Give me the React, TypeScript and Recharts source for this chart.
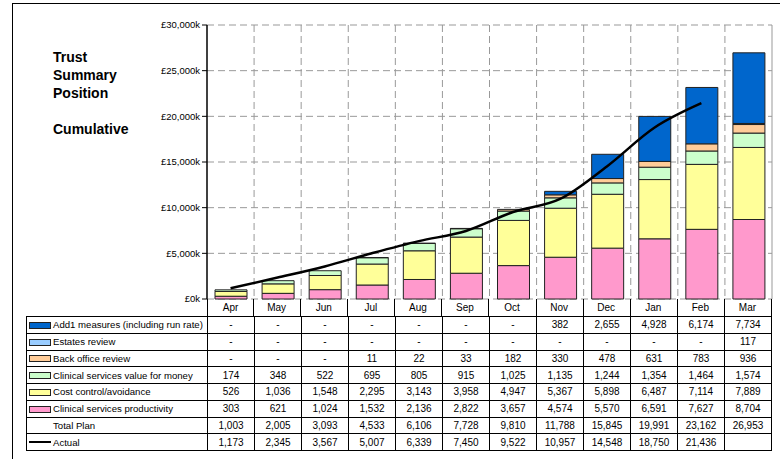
import { ComposedChart, Bar, Line, XAxis, YAxis, CartesianGrid } from "recharts"

const months = ["Apr", "May", "Jun", "Jul", "Aug", "Sep", "Oct", "Nov", "Dec", "Jan", "Feb", "Mar"]

// £k, cumulative
const add1 = [0, 0, 0, 0, 0, 0, 0, 382, 2655, 4928, 6174, 7734]
const estates = [0, 0, 0, 0, 0, 0, 0, 0, 0, 0, 0, 117]
const backOffice = [0, 0, 0, 11, 22, 33, 182, 330, 478, 631, 783, 936]
const vfm = [174, 348, 522, 695, 805, 915, 1025, 1135, 1244, 1354, 1464, 1574]
const costControl = [526, 1036, 1548, 2295, 3143, 3958, 4947, 5367, 5898, 6487, 7114, 7889]
const productivity = [303, 621, 1024, 1532, 2136, 2822, 3657, 4574, 5570, 6591, 7627, 8704]
const totalPlan = [1003, 2005, 3093, 4533, 6106, 7728, 9810, 11788, 15845, 19991, 23162, 26953]
const actual: (number | null)[] = [1173, 2345, 3567, 5007, 6339, 7450, 9522, 10957, 14548, 18750, 21436, null]

const yTicks = [0, 5000, 10000, 15000, 20000, 25000, 30000]

const FONT = "Arial, 'Liberation Sans', sans-serif"
const STROKE = "#222"

const series = [
  { key: "add1", name: "Add1 measures (including run rate)", values: add1, color: "#0066CC" },
  { key: "estates", name: "Estates review", values: estates, color: "#99CCFF" },
  { key: "backOffice", name: "Back office review", values: backOffice, color: "#FFCC99" },
  { key: "vfm", name: "Clinical services value for money", values: vfm, color: "#CCFFCC" },
  { key: "costControl", name: "Cost control/avoidance", values: costControl, color: "#FFFF99" },
  { key: "productivity", name: "Clinical services productivity", values: productivity, color: "#FF99CC" },
]

const data = months.map((m, i) => {
  const row: Record<string, string | number | null> = { month: m, actual: actual[i] }
  for (const s of series) row[s.key] = s.values[i]
  return row
})

const fmt = (v: number | null) =>
  v == null ? "" : v === 0 ? "-" : v.toLocaleString("en-US")

const fmtY = (v: number) => `£${v.toLocaleString("en-US")}k`

const cell: React.CSSProperties = {
  borderRight: "1px solid #000",
  borderBottom: "1px solid #000",
  display: "flex",
  alignItems: "center",
  justifyContent: "center",
  fontSize: 10,
  overflow: "hidden",
  whiteSpace: "nowrap",
}

const labelCell: React.CSSProperties = {
  ...cell,
  justifyContent: "flex-start",
  position: "relative",
  paddingLeft: 26,
  fontSize: 9.6,
}

function Swatch({ color, line }: { color?: string; line?: boolean }) {
  if (line)
    return <span style={{ position: "absolute", left: 2, top: "50%", width: 22, height: 2, marginTop: -1, background: "#000" }} />
  return (
    <span style={{
      position: "absolute", left: 2, top: "50%", width: 20, height: 5, marginTop: -3,
      background: color, border: `1px solid ${STROKE}`,
    }} />
  )
}

function DataTable() {
  const cols = "181px repeat(12, 1fr)"
  const rows = [
    ...series.map((s) => ({ name: s.name, values: s.values as (number | null)[], swatch: <Swatch color={s.color} /> })),
    { name: "Total Plan", values: totalPlan as (number | null)[], swatch: null },
    { name: "Actual", values: actual, swatch: <Swatch line /> },
  ]
  return (
    <div style={{ position: "absolute", left: 26, top: 299, width: 746, fontFamily: FONT, color: "#000" }}>
      <div style={{ display: "grid", gridTemplateColumns: cols, height: 17 }}>
        <div />
        {months.map((m) => (
          <div key={m} style={{ ...cell, borderBottom: "none", borderLeft: m === "Apr" ? "1px solid #000" : undefined, marginLeft: m === "Apr" ? 0 : -1 }}>{m}</div>
        ))}
      </div>
      <div style={{
        display: "grid", gridTemplateColumns: cols, gridAutoRows: "16.75px",
        borderTop: "1px solid #000", borderLeft: "1px solid #000",
      }}>
        {rows.map((r) => [
          <div key={r.name} style={labelCell}>{r.swatch}{r.name}</div>,
          ...r.values.map((v, i) => <div key={r.name + i} style={cell}>{fmt(v)}</div>),
        ])}
      </div>
    </div>
  )
}

export default function App() {
  return (
    <div style={{ position: "absolute", left: 0, top: 0, width: 780, height: 459, background: "#fff", overflow: "hidden" }}>
      <div style={{ position: "absolute", left: 12, top: 3, width: 800, height: 500, borderLeft: "1.5px solid #000", borderTop: "1.5px solid #000" }} />
      <div style={{ position: "absolute", left: 53, top: 48, fontFamily: FONT, fontWeight: "bold", fontSize: 14, lineHeight: "18px", color: "#000" }}>
        Trust<br />Summary<br />Position<br /><br />Cumulative
      </div>
      <div style={{ position: "absolute", left: 0, top: 0 }}>
        <ComposedChart width={780} height={310} data={data} margin={{ top: 25, right: 8, bottom: 11, left: 147 }} barSize={32}>
          <CartesianGrid
            stroke="#999"
            strokeDasharray="7 4"
            verticalCoordinatesGenerator={({ offset }: any) =>
              months.slice(1).map((_, i) => offset.left + ((i + 1) * offset.width) / months.length)}
          />
          <CartesianGrid
            stroke="#999"
            horizontal={false}
            verticalCoordinatesGenerator={({ offset }: any) => [offset.left + offset.width]}
          />
          <XAxis dataKey="month" height={0} tick={false} tickLine={false} axisLine={{ stroke: "#000", strokeWidth: 1.5 }} />
          <YAxis
            width={60}
            domain={[0, 30000]}
            ticks={yTicks}
            interval={0}
            tickFormatter={fmtY}
            tick={{ fontSize: 9.5, fill: "#000", fontFamily: FONT }}
            tickSize={5}
            tickLine={{ stroke: "#000" }}
            axisLine={{ stroke: "#000", strokeWidth: 1.5 }}
          />
          {[...series].reverse().map((s) => (
            <Bar key={s.key} dataKey={s.key} stackId="plan" fill={s.color} stroke={STROKE} strokeWidth={1} isAnimationActive={false} />
          ))}
          <Line dataKey="actual" type="monotone" stroke="#000" strokeWidth={2.5} dot={false} isAnimationActive={false} />
        </ComposedChart>
      </div>
      <DataTable />
    </div>
  )
}
